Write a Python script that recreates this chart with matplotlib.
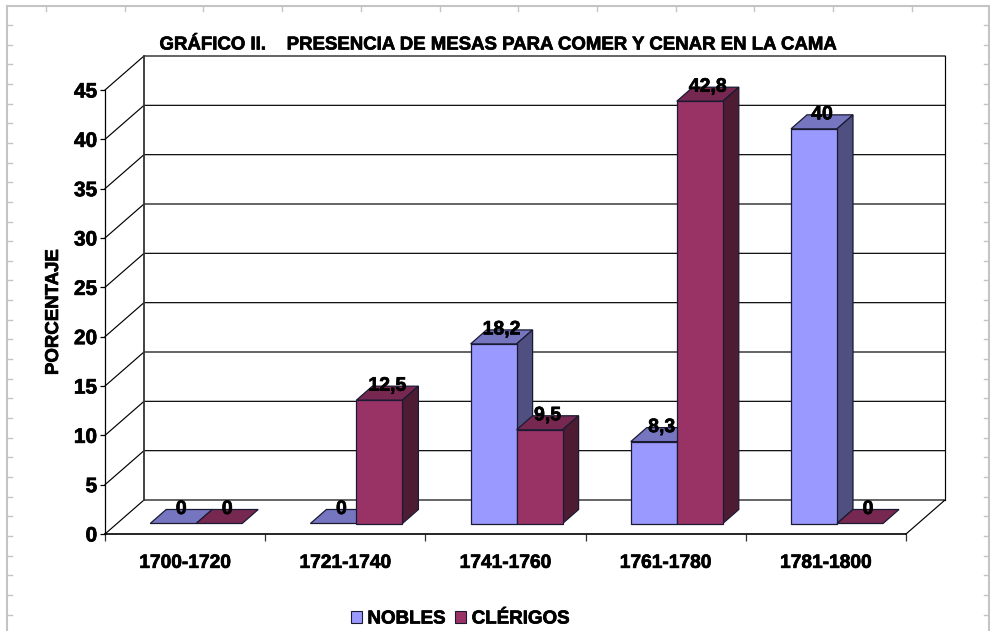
import numpy as np
import matplotlib
matplotlib.use("Agg")
import matplotlib.pyplot as plt
import matplotlib.patheffects as pe
from matplotlib.patches import Polygon, Patch
from matplotlib.lines import Line2D
from matplotlib.text import Text

plt.rcParams['font.family'] = ['Liberation Sans', 'DejaVu Sans']
plt.rcParams['font.weight'] = 'bold'

categories = ['1700-1720', '1721-1740', '1741-1760', '1761-1780', '1781-1800']
nobles = [0, 0, 18.2, 8.3, 40]
clerigos = [0, 12.5, 9.5, 42.8, 0]
nobles_labels = ['0', '0', '18,2', '8,3', '40']
clerigos_labels = ['0', '12,5', '9,5', '42,8', '0']
yticks = [0, 5, 10, 15, 20, 25, 30, 35, 40, 45]

W, H = 990, 631
x0_px, x1_px = 105, 906   # front axis in pixels
y0_px, y45_px = 534, 90
sx = (x1_px - x0_px) / len(categories)   # pixels per category
sy = (y0_px - y45_px) / 45.              # pixels per percent

fig = plt.figure(figsize=(W / 100, H / 100), dpi=100, facecolor='white')
ax = fig.add_axes([0, 0, 1, 1])
ax.set_xlim(-x0_px / sx, (W - x0_px) / sx)
ax.set_ylim((y0_px - H) / sy, y0_px / sy)
ax.patch.set_visible(False)


def at(x, y, dx=0, dy=0):
    # data point pushed back by a depth given in pixels
    return (x + dx / sx, y + dy / sy)


# walls
wall_dx, wall_dy = 39, 34
n = len(categories)
line_kw = dict(color='black', zorder=0.5)
for v in yticks[1:]:
    a, b, c = at(0, v), at(0, v, wall_dx, wall_dy), at(n, v, wall_dx, wall_dy)
    ax.plot([a[0], b[0], c[0]], [a[1], b[1], c[1]], lw=0.85, **line_kw)
floor = [at(0, 0), at(0, 0, wall_dx, wall_dy), at(n, 0, wall_dx, wall_dy), at(n, 0)]
ax.plot(*zip(*floor), lw=0.85, **line_kw)
ax.plot(*zip(at(0, 0, wall_dx, wall_dy), at(0, 45, wall_dx, wall_dy)), lw=1.3, color='#333333', zorder=0.5)
ax.plot(*zip(at(n, 0, wall_dx, wall_dy), at(n, 45, wall_dx, wall_dy)), lw=0.85, **line_kw)

# bars
bar_w = 46 / sx
off_dx, off_dy = 11.7, 10.5    # bar front plane
dep_dx, dep_dy = 16, 14        # bar depth
gap = 33.5 / sx
colors = {
    'n': ('#9999FF', '#7676C0', '#4F4F80'),
    'c': ('#993366', '#772850', '#4D1C33'),
}


def bar3d(left, val, cols, label):
    right = left + bar_w
    fx, fy = off_dx, off_dy
    bx, by = off_dx + dep_dx, off_dy + dep_dy
    ec = dict(edgecolor='#1a1a33', lw=0.9, zorder=1)
    top = [at(left, val, fx, fy), at(right, val, fx, fy), at(right, val, bx, by), at(left, val, bx, by)]
    ax.add_patch(Polygon(top, facecolor=cols[1], **ec))
    if val > 0:
        side = [at(right, 0, fx, fy), at(right, 0, bx, by), at(right, val, bx, by), at(right, val, fx, fy)]
        ax.add_patch(Polygon(side, facecolor=cols[2], **ec))
        front = [at(left, 0, fx, fy), at(right, 0, fx, fy), at(right, val, fx, fy), at(left, val, fx, fy)]
        ax.add_patch(Polygon(front, facecolor=cols[0], **ec))
    lx, ly = at(left + bar_w / 2, val, off_dx + dep_dx / 2, off_dy + dep_dy)
    ax.text(lx, ly, label, ha='center', va='center', fontsize=14, color='black', zorder=5)


for i in range(n):
    bar3d(i + gap, nobles[i], colors['n'], nobles_labels[i])
    bar3d(i + gap + bar_w, clerigos[i], colors['c'], clerigos_labels[i])

# axes
for s in ['top', 'right']:
    ax.spines[s].set_visible(False)
ax.spines['left'].set_position(('data', 0))
ax.spines['left'].set_bounds(0, 45)
ax.spines['left'].set_linewidth(0.9)
ax.spines['bottom'].set_position(('data', 0))
ax.spines['bottom'].set_bounds(0, n)
ax.spines['bottom'].set_linewidth(1.2)
ax.set_yticks(yticks)
ax.tick_params(axis='y', length=3.6, width=0.9, pad=2, labelsize=15)
ax.set_xticks(np.arange(n + 1))
ax.set_xticklabels([])
ax.tick_params(axis='x', length=5, width=0.9, color='#333333')
ax.set_xticks(np.arange(n) + 0.5, categories, minor=True)
ax.tick_params(axis='x', which='minor', length=0, pad=15, labelsize=13.8)

ax.set_ylabel('PORCENTAJE', fontsize=13.4, fontweight='bold')
ax.yaxis.set_label_coords(62 / W, 1 - 312 / H)

ax.set_title('GRÁFICO II.    PRESENCIA DE MESAS PARA COMER Y CENAR EN LA CAMA',
             fontsize=13.4, fontweight='bold', va='center', x=498 / W, y=1 - 45 / H, pad=0)

handles = [Patch(facecolor=colors['n'][0], edgecolor='#1a1a33', lw=0.8, label='NOBLES'),
           Patch(facecolor=colors['c'][0], edgecolor='#1a1a33', lw=0.8, label='CLÉRIGOS')]
ax.legend(handles=handles, ncols=2, frameon=False, fontsize=13.5, loc='center',
          bbox_to_anchor=(460 / W, 1 - 619 / H), handlelength=0.6, handleheight=0.65,
          handletextpad=0.3, columnspacing=0.5, borderpad=0, borderaxespad=0)

# reference text is heavier than plain bold
for t in ax.findobj(Text):
    t.set_path_effects([pe.withStroke(linewidth=0.5, foreground='black')])

# page frame with ruler marks
gray = '#C4C4C4'


def page_line(xs, ys, lw=1.5):
    fig.add_artist(Line2D(np.array(xs) / W, 1 - np.array(ys) / H, color=gray, lw=lw,
                          transform=fig.transFigure, zorder=0))


page_line([6.5, 6.5], [631, 5.5])
page_line([6.5, 989], [5.5, 5.5])
page_line([989, 989], [5.5, 631])
for x in np.arange(46, 985, 78.7):
    page_line([x, x], [5.5, 10.5], lw=1)
for y in np.arange(25, 631, 19.65):
    page_line([6.5, 11.5], [y, y], lw=1)
    page_line([983.5, 989], [y, y], lw=1)

fig.savefig('out.png', dpi=100)
